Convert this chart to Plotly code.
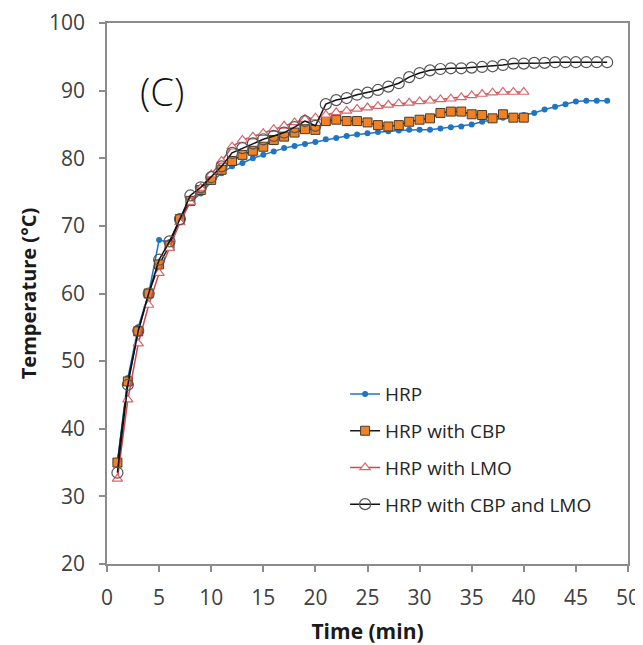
import plotly.graph_objects as go

# ---- data ----
t_hrp = list(range(1, 49))
hrp = [35.0, 47.5, 55.0, 60.0, 67.9, 67.6, 71.0, 73.5, 74.8, 76.5,
       77.8, 78.8, 79.3, 80.0, 80.5, 81.0, 81.5, 81.8, 82.1, 82.4,
       82.8, 83.0, 83.3, 83.5, 83.7, 83.9, 84.0, 84.1, 84.2, 84.2,
       84.2, 84.4, 84.6, 84.7, 85.0, 85.4, 85.7, 86.0, 86.2, 86.4,
       86.7, 87.2, 87.6, 88.0, 88.4, 88.5, 88.5, 88.5]

t_cbp = list(range(1, 41))
cbp = [35.0, 47.0, 54.4, 60.0, 64.3, 67.1, 71.0, 73.7, 75.3, 76.8,
       78.3, 79.6, 80.5, 81.1, 81.7, 82.7, 83.2, 83.8, 84.3, 84.2,
       85.5, 85.7, 85.5, 85.5, 85.3, 84.9, 84.7, 84.9, 85.4, 85.7,
       85.9, 86.7, 86.9, 86.9, 86.5, 86.4, 85.9, 86.5, 86.0, 86.0]

t_lmo = list(range(1, 41))
lmo = [32.6, 44.3, 52.6, 58.3, 63.0, 66.7, 70.5, 73.5, 75.6, 77.6,
       79.6, 81.7, 82.7, 83.2, 83.7, 84.3, 84.8, 85.3, 85.8, 86.0,
       86.4, 86.8, 87.0, 87.3, 87.5, 87.7, 87.9, 88.1, 88.2, 88.4,
       88.5, 88.7, 88.8, 89.0, 89.3, 89.5, 89.7, 89.8, 89.8, 89.8]

t_both = list(range(1, 49))
both = [33.5, 46.5, 54.5, 60.0, 65.0, 67.7, 71.0, 74.5, 75.7, 77.2,
        78.8, 80.8, 81.5, 82.2, 82.8, 83.3, 83.8, 84.6, 85.5, 84.8,
        88.0, 88.6, 88.9, 89.4, 89.7, 90.1, 90.6, 91.1, 92.0, 92.6,
        93.0, 93.2, 93.3, 93.3, 93.4, 93.5, 93.6, 93.8, 94.0, 94.0,
        94.1, 94.1, 94.2, 94.2, 94.2, 94.2, 94.2, 94.2]

names = ["HRP", "HRP with CBP", "HRP with LMO", "HRP with CBP and LMO"]
x_ticks = list(range(0, 51, 5))
y_ticks = list(range(20, 101, 10))

fig = go.Figure()
fig.add_trace(go.Scatter(
    x=t_hrp, y=hrp, name=names[0], mode="lines+markers", legendgroup="a",
    line=dict(color="#1F74C4", width=1.5),
    marker=dict(symbol="circle", size=6, color="#1F74C4")))
fig.add_trace(go.Scatter(
    x=t_cbp, y=cbp, name=names[1], mode="lines+markers", legendgroup="b",
    line=dict(color="#1a1a1a", width=1.5),
    marker=dict(symbol="square", size=9, color="#F08224",
                line=dict(color="#4a3a2a", width=1))))
fig.add_trace(go.Scatter(
    x=t_lmo, y=lmo, name=names[2], mode="lines+markers", legendgroup="c",
    line=dict(color="#CC4A4F", width=1.5),
    marker=dict(symbol="triangle-up", size=9, color="white",
                line=dict(color="#D8666A", width=1.2))))
fig.add_trace(go.Scatter(
    x=t_both, y=both, name=names[3], mode="lines+markers", legendgroup="d",
    line=dict(color="#111111", width=1.5),
    marker=dict(symbol="circle-open", size=11, color="#555555",
                line=dict(width=1.2))))

axis_common = dict(
    showline=True, linecolor="#8c8c8c", linewidth=1.5, mirror=True,
    ticks="outside", ticklen=6, tickcolor="#8c8c8c", tickwidth=1.5,
    showgrid=False, zeroline=False, automargin=False,
    tickfont=dict(family="Open Sans", size=21, color="#404040"),
)

fig.update_layout(
    width=635, height=637,
    margin=dict(l=99, r=15, t=15, b=81),
    paper_bgcolor="white", plot_bgcolor="white",
    showlegend=True,
    legend=dict(x=0.457, y=0.349, xanchor="left", yanchor="top",
                bgcolor="rgba(0,0,0,0)", tracegroupgap=9,
                font=dict(family="Open Sans", size=19, color="#262626")),
    xaxis=dict(range=[0, 50], tickvals=x_ticks, ticklabelstandoff=8,
               title=dict(text="<b>Time (min)</b>", standoff=14,
                          font=dict(family="Open Sans", size=21, color="#1a1a1a")),
               **axis_common),
    yaxis=dict(range=[20, 100], tickvals=y_ticks, ticklabelstandoff=10,
               title=dict(text="<b>Temperature (°C)</b>", standoff=7,
                          font=dict(family="Open Sans", size=20, color="#1a1a1a")),
               **axis_common),
    annotations=[dict(text="(C)", x=0.106, y=0.874, xref="paper", yref="paper",
                      xanchor="center", yanchor="middle", showarrow=False,
                      font=dict(family="Open Sans", size=38, weight=300,
                                color="#111111"))],
)

fig.write_html("out.html")
